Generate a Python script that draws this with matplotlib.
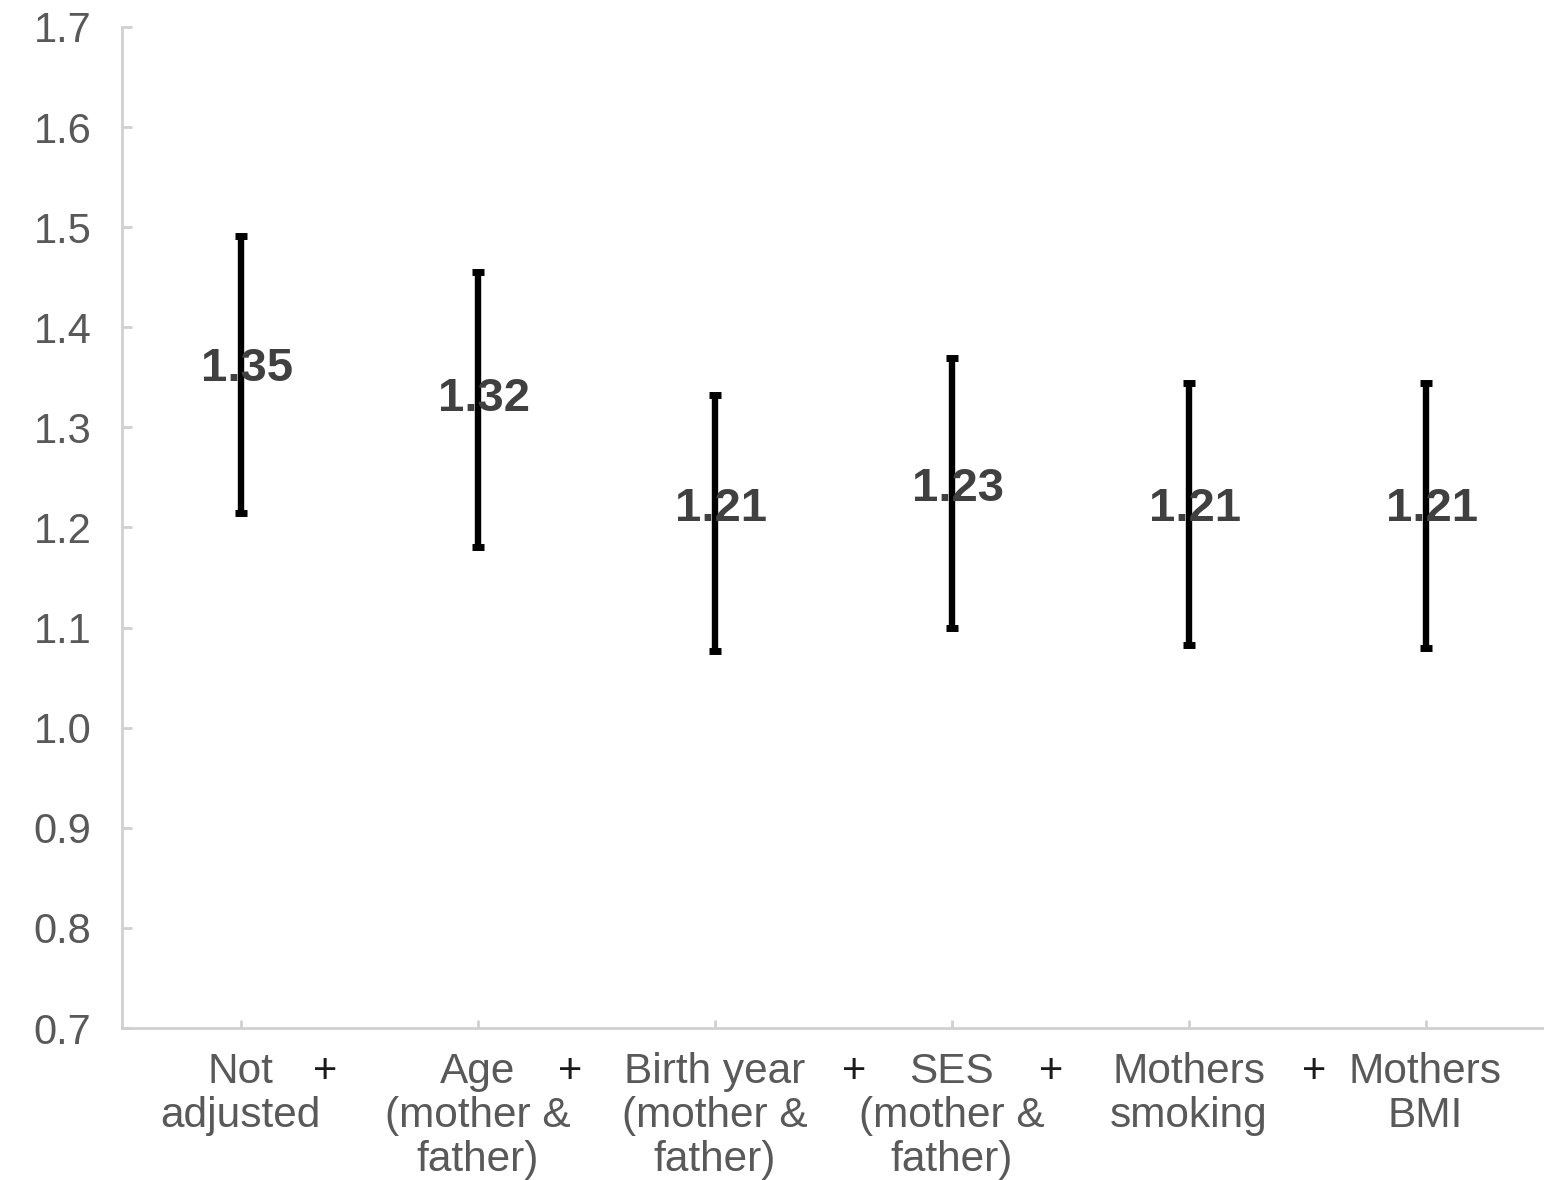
import numpy as np
import matplotlib
matplotlib.use("Agg")
import matplotlib.pyplot as plt
import matplotlib.transforms as mtransforms

plt.rcParams['font.family'] = ['Liberation Sans', 'DejaVu Sans']

# odds ratios with 95% CI, one model per adjustment step
categories = ["Not\nadjusted", "Age\n(mother &\nfather)", "Birth year\n(mother &\nfather)",
              "SES\n(mother &\nfather)", "Mothers\nsmoking", "Mothers\nBMI"]
odds_ratio = [1.35, 1.32, 1.21, 1.23, 1.21, 1.21]
ci_lower = [1.214, 1.181, 1.077, 1.100, 1.083, 1.080]
ci_upper = [1.491, 1.455, 1.332, 1.369, 1.344, 1.344]
y_ticks = [0.7, 0.8, 0.9, 1.0, 1.1, 1.2, 1.3, 1.4, 1.5, 1.6, 1.7]

# where the "+" between the step labels sit (in category units)
plus_x = [0.357, 1.39, 2.59, 3.42, 4.53]

axis_grey = '#d0d0d0'
label_grey = '#595959'

fig = plt.figure(figsize=(15.44, 11.8), dpi=100)
ax = fig.add_axes([122/1544, 1 - 1028/1180, 1422/1544, 1001/1180])

x = np.arange(len(categories))
orr = np.array(odds_ratio)
yerr = np.vstack([orr - np.array(ci_lower), np.array(ci_upper) - orr])
ax.errorbar(x, orr, yerr=yerr, fmt='none', ecolor='black', elinewidth=4.6,
            capsize=4, capthick=5)

for xi, v in zip(x, odds_ratio):
    ax.annotate(f"{v:.2f}", (xi, v), xytext=(5, 6), textcoords='offset points',
                ha='center', va='center', fontsize=34, fontweight='bold',
                color='#404040')

ax.set_xlim(-0.5, len(categories) - 0.5)
ax.set_ylim(0.7, 1.7)
ax.set_yticks(y_ticks)
ax.set_yticklabels([f"{t:.1f}" for t in y_ticks])
ax.set_xticks(x)
ax.set_xticklabels(categories, linespacing=1.14)

for side in ['top', 'right']:
    ax.spines[side].set_visible(False)
for side in ['left', 'bottom']:
    ax.spines[side].set_color(axis_grey)
    ax.spines[side].set_linewidth(2)

ax.tick_params(axis='y', direction='in', length=7, width=2, color=axis_grey,
               labelsize=30, labelcolor=label_grey, pad=22)
ax.tick_params(axis='x', direction='in', length=6, width=2, color=axis_grey,
               labelsize=30.5, labelcolor=label_grey, pad=17)

trans = mtransforms.blended_transform_factory(ax.transData, ax.transAxes)
for px in plus_x:
    ax.text(px, -0.044, "+", transform=trans, ha='center', va='center',
            fontsize=30, color='#1a1a1a')

fig.savefig("out.png", dpi=100)
